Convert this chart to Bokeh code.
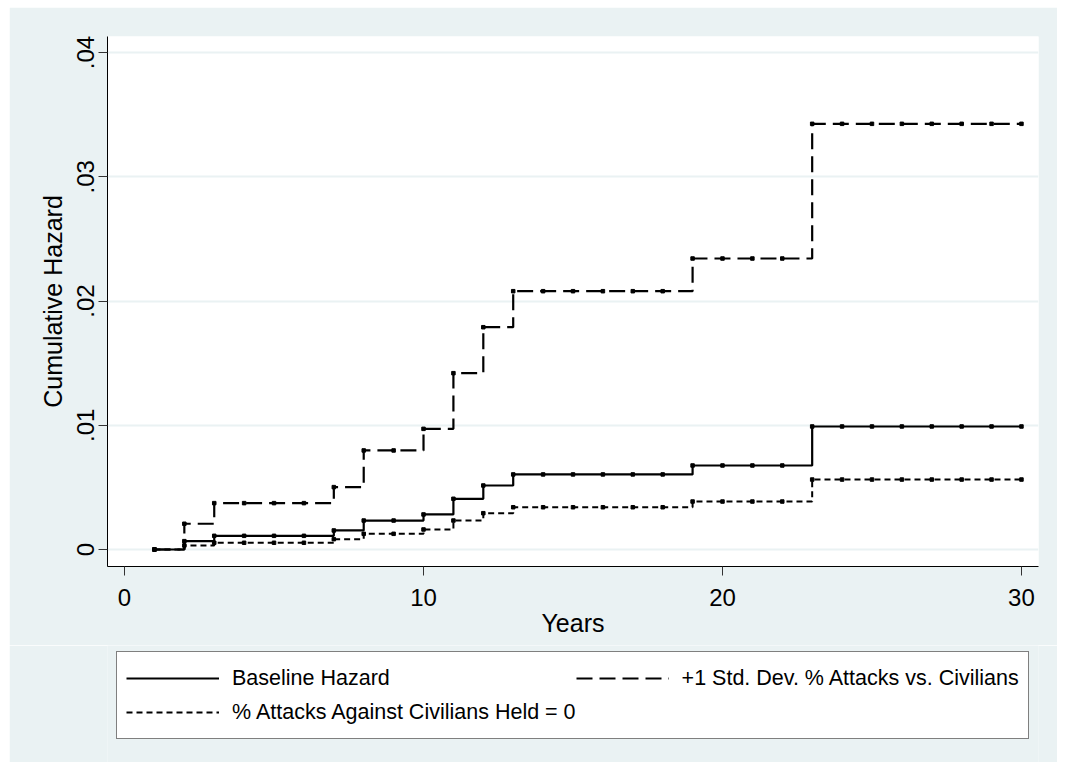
from bokeh.plotting import figure
from bokeh.layouts import column
from bokeh.models import Legend, LegendItem, FixedTicker, Range1d, CustomJSTickFormatter
from bokeh.embed import file_html
from bokeh.resources import INLINE

# ---- data ----
years = list(range(1, 31))
baseline = [0.0, 0.00067, 0.0011, 0.0011, 0.0011, 0.0011, 0.00153, 0.00233, 0.00233, 0.00282,
            0.00408, 0.00515, 0.00604, 0.00604, 0.00604, 0.00604, 0.00604, 0.00604, 0.00676, 0.00676,
            0.00676, 0.00676, 0.0099, 0.0099, 0.0099, 0.0099, 0.0099, 0.0099, 0.0099, 0.0099]
plus_sd = [0.0, 0.00207, 0.00373, 0.00373, 0.00373, 0.00373, 0.00502, 0.00797, 0.00797, 0.00971,
           0.01419, 0.01789, 0.02079, 0.02079, 0.02079, 0.02079, 0.02079, 0.02079, 0.02342, 0.02342,
           0.02342, 0.02342, 0.03426, 0.03426, 0.03426, 0.03426, 0.03426, 0.03426, 0.03426, 0.03426]
held_zero = [0.0, 0.00032, 0.00054, 0.00054, 0.00054, 0.00054, 0.00083, 0.00126, 0.00126, 0.00161,
             0.00233, 0.00292, 0.0034, 0.0034, 0.0034, 0.0034, 0.0034, 0.0034, 0.00386, 0.00386,
             0.00386, 0.00386, 0.00563, 0.00563, 0.00563, 0.00563, 0.00563, 0.00563, 0.00563, 0.00563]
series_labels = ["Baseline Hazard", "+1 Std. Dev. % Attacks vs. Civilians",
                 "% Attacks Against Civilians Held = 0"]
x_ticks = [0, 10, 20, 30]
y_ticks = [0, 0.01, 0.02, 0.03, 0.04]

BG = "#EAF2F3"
FONT = "Liberation Sans"
styles = [dict(line_width=2.2), dict(line_width=2.2, line_dash="16 7"),
          dict(line_width=2, line_dash="6 4")]
all_series = (baseline, plus_sd, held_zero)

# ---- main plot ----
p = figure(width=1048, height=638, output_backend="svg", toolbar_location=None,
           x_range=Range1d(-0.57, 30.57), y_range=Range1d(-0.00137, 0.04129),
           background_fill_color="white", border_fill_color=BG,
           min_border_left=98, min_border_right=19, min_border_top=29, min_border_bottom=79)
p.outline_line_color = None

for ys, st in zip(all_series, styles):
    p.step(years, ys, mode="after", line_color="black", **st)
    p.scatter(years, ys, marker="square", size=3.5, color="black")

p.xaxis.ticker = FixedTicker(ticks=x_ticks)
p.yaxis.ticker = FixedTicker(ticks=y_ticks)
p.yaxis.formatter = CustomJSTickFormatter(
    code="return tick == 0 ? '0' : tick.toFixed(2).replace(/^0/, '');")
p.xaxis.axis_label = "Years"
p.yaxis.axis_label = "Cumulative Hazard"
p.yaxis.major_label_orientation = "vertical"
for ax in (p.xaxis, p.yaxis):
    ax.axis_line_color = "black"
    ax.axis_line_width = 1
    ax.major_tick_line_color = "#333333"
    ax.major_tick_out = 9
    ax.major_tick_in = 0
    ax.minor_tick_line_color = None
    ax.major_label_text_font = FONT
    ax.major_label_text_font_size = "24px"
    ax.major_label_text_color = "black"
    ax.axis_label_text_font = FONT
    ax.axis_label_text_font_size = "25px"
    ax.axis_label_text_font_style = "normal"
    ax.axis_label_text_color = "black"
p.xaxis.major_label_standoff = 13
p.xaxis.axis_label_standoff = 0
p.yaxis.major_label_standoff = 4
p.yaxis.axis_label_standoff = 8

p.xgrid.visible = False
p.ygrid.grid_line_color = BG
p.ygrid.grid_line_width = 2

# ---- legend strip (its frame is aligned with the main plot's frame) ----
q = figure(width=1048, height=117, output_backend="svg", toolbar_location=None,
           x_axis_location=None, y_axis_location=None,
           x_range=Range1d(1000, 1001), y_range=Range1d(0, 1),
           background_fill_color=BG, border_fill_color=BG,
           min_border_left=0, min_border_right=0, min_border_top=0, min_border_bottom=0)
q.outline_line_color = None
q.grid.visible = False
keys = [q.step(years, ys, mode="after", line_color="black", **st)
        for ys, st in zip(all_series, styles)]

legend = Legend(items=[LegendItem(label=lab, renderers=[r]) for lab, r in zip(series_labels, keys)],
                orientation="horizontal", ncols=2, location=(9, 23))
legend.label_text_font = FONT
legend.label_text_font_size = "21.5px"
legend.label_text_color = "black"
legend.glyph_width = 93
legend.glyph_height = 34
legend.label_height = 34
legend.label_standoff = 13
legend.spacing = 0
legend.padding = 9
legend.margin = 0
legend.border_line_color = "black"
legend.border_line_width = 1
legend.background_fill_color = "white"
legend.background_fill_alpha = 1
q.add_layout(legend, "center")

layout = column(p, q, spacing=0, margin=(7, 0, 0, 9))

open("out.html", "w").write(file_html(layout, INLINE))
